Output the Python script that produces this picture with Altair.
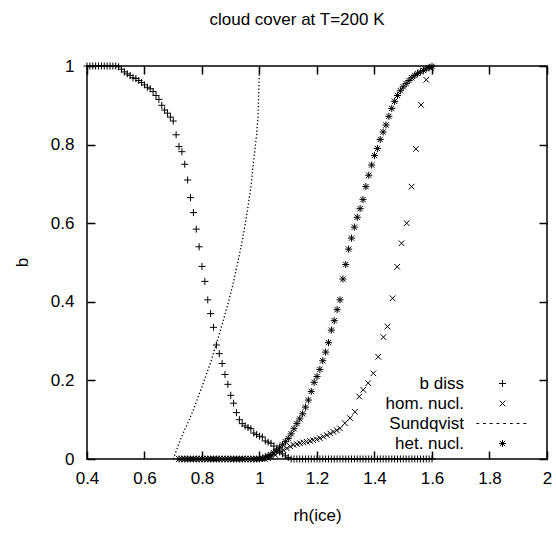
import altair as alt
import pandas as pd

title_text = "cloud cover at T=200 K"
x_title = "rh(ice)"
y_title = "b"
series_names = ["b diss", "hom. nucl.", "Sundqvist", "het. nucl."]
x_ticks = [0.4, 0.6, 0.8, 1.0, 1.2, 1.4, 1.6, 1.8, 2.0]
y_ticks = [0.0, 0.2, 0.4, 0.6, 0.8, 1.0]

# b diss (+)
bdiss_x = [0.40, 0.41, 0.42, 0.43, 0.44, 0.45, 0.46, 0.47, 0.48, 0.49, 0.50, 0.51,
           0.52, 0.53, 0.54, 0.55, 0.56, 0.57, 0.58, 0.59, 0.60, 0.61, 0.62, 0.63,
           0.64, 0.65, 0.66, 0.67, 0.68, 0.69, 0.70, 0.71, 0.72, 0.73, 0.74, 0.75,
           0.76, 0.77, 0.78, 0.79, 0.80, 0.81, 0.82, 0.83, 0.84, 0.85, 0.86, 0.87,
           0.88, 0.89, 0.90, 0.91, 0.92, 0.93, 0.94, 0.95, 0.96, 0.97, 0.98, 0.99,
           1.00, 1.01, 1.02, 1.03, 1.04, 1.05, 1.06, 1.07, 1.08, 1.09, 1.10, 1.11,
           1.12, 1.13, 1.14, 1.15, 1.16, 1.17, 1.18, 1.19, 1.20, 1.21, 1.22, 1.23,
           1.24, 1.25, 1.26, 1.27, 1.28, 1.29, 1.30, 1.31, 1.32, 1.33, 1.34, 1.35,
           1.36, 1.37, 1.38, 1.39, 1.40, 1.41, 1.42, 1.43, 1.44, 1.45, 1.46, 1.47,
           1.48, 1.49, 1.50, 1.51, 1.52, 1.53, 1.54, 1.55, 1.56, 1.57, 1.58, 1.59, 1.60]
bdiss_y = [1.0, 1.0, 1.0, 1.0, 1.0, 1.0, 1.0, 1.0, 1.0, 1.0, 1.0, 0.998,
           0.992, 0.985, 0.980, 0.976, 0.970, 0.968, 0.963, 0.958, 0.952, 0.946, 0.942, 0.935,
           0.925, 0.915, 0.900, 0.888, 0.880, 0.870, 0.860, 0.825, 0.795, 0.782, 0.750, 0.710,
           0.665, 0.627, 0.585, 0.540, 0.490, 0.452, 0.405, 0.370, 0.335, 0.290, 0.268, 0.243,
           0.215, 0.190, 0.162, 0.142, 0.118, 0.100, 0.090, 0.084, 0.080, 0.077, 0.066, 0.062,
           0.058, 0.056, 0.046, 0.043, 0.040, 0.033, 0.025, 0.018, 0.013, 0.008, 0.004, 0.0,
           0.0, 0.0, 0.0, 0.0, 0.0, 0.0, 0.0, 0.0, 0.0, 0.0, 0.0, 0.0,
           0.0, 0.0, 0.0, 0.0, 0.0, 0.0, 0.0, 0.0, 0.0, 0.0, 0.0, 0.0,
           0.0, 0.0, 0.0, 0.0, 0.0, 0.0, 0.0, 0.0, 0.0, 0.0, 0.0, 0.0,
           0.0, 0.0, 0.0, 0.0, 0.0, 0.0, 0.0, 0.0, 0.0, 0.0, 0.0, 0.0, 0.0]

# hom. nucl. (x)
hom_x = [0.72, 0.73, 0.74, 0.75, 0.76, 0.77, 0.78, 0.79, 0.80, 0.81, 0.82, 0.83,
         0.84, 0.85, 0.86, 0.87, 0.88, 0.89, 0.90, 0.91, 0.92, 0.93, 0.94, 0.95,
         0.96, 0.97, 0.98, 0.99, 1.00, 1.01, 1.02, 1.03, 1.04,
         1.055, 1.071, 1.083, 1.095, 1.107, 1.118, 1.130, 1.141, 1.153, 1.164, 1.176,
         1.187, 1.199, 1.210, 1.222, 1.234, 1.246, 1.257, 1.269, 1.280, 1.297, 1.315,
         1.332, 1.347, 1.361, 1.378, 1.396, 1.413, 1.431, 1.445, 1.463, 1.479, 1.494,
         1.512, 1.529, 1.544, 1.562, 1.580, 1.597]
hom_y = [0.0, 0.0, 0.0, 0.0, 0.0, 0.0, 0.0, 0.0, 0.0, 0.0, 0.0, 0.0,
         0.0, 0.0, 0.0, 0.0, 0.0, 0.0, 0.0, 0.0, 0.0, 0.0, 0.0, 0.0,
         0.0, 0.0, 0.0, 0.0, 0.0, 0.0, 0.0, 0.002, 0.005,
         0.010, 0.019, 0.023, 0.027, 0.032, 0.036, 0.038, 0.040, 0.042, 0.044, 0.046,
         0.048, 0.050, 0.053, 0.057, 0.061, 0.065, 0.069, 0.073, 0.078, 0.091, 0.104,
         0.120, 0.159, 0.176, 0.193, 0.218, 0.260, 0.310, 0.337, 0.409, 0.489, 0.549,
         0.600, 0.693, 0.789, 0.901, 0.965, 0.995]

# het. nucl. (*)
het_x = [0.72, 0.73, 0.74, 0.75, 0.76, 0.77, 0.78, 0.79, 0.80, 0.81, 0.82, 0.83,
         0.84, 0.85, 0.86, 0.87, 0.88, 0.89, 0.90, 0.91, 0.92, 0.93, 0.94, 0.95,
         0.96, 0.97, 0.98, 0.99, 1.00, 1.01, 1.02, 1.03, 1.04, 1.05, 1.06, 1.07,
         1.08, 1.09, 1.10, 1.11, 1.12, 1.13, 1.14, 1.15, 1.16, 1.17, 1.18, 1.19,
         1.20, 1.21, 1.22, 1.23, 1.24, 1.25, 1.26, 1.27, 1.28, 1.29, 1.30, 1.31,
         1.32, 1.33, 1.34, 1.35, 1.36, 1.37, 1.38, 1.39, 1.40, 1.41, 1.42, 1.43,
         1.44, 1.45, 1.46, 1.47, 1.48, 1.49, 1.50, 1.51, 1.52, 1.53, 1.54, 1.55,
         1.56, 1.57, 1.58, 1.59, 1.60]
het_y = [0.0, 0.0, 0.0, 0.0, 0.0, 0.0, 0.0, 0.0, 0.0, 0.0, 0.0, 0.0,
         0.0, 0.0, 0.0, 0.0, 0.0, 0.0, 0.0, 0.0, 0.0, 0.0, 0.0, 0.0,
         0.0, 0.0, 0.0, 0.0, 0.0, 0.002, 0.005, 0.008, 0.011, 0.016, 0.022, 0.030,
         0.036, 0.044, 0.052, 0.064, 0.077, 0.090, 0.102, 0.115, 0.132, 0.150, 0.172, 0.195,
         0.210, 0.228, 0.250, 0.272, 0.296, 0.328, 0.352, 0.380, 0.405, 0.458, 0.495, 0.534,
         0.562, 0.590, 0.615, 0.637, 0.660, 0.693, 0.722, 0.748, 0.772, 0.790, 0.813, 0.832,
         0.850, 0.872, 0.892, 0.910, 0.925, 0.937, 0.947, 0.955, 0.963, 0.970, 0.976, 0.981,
         0.985, 0.989, 0.993, 0.996, 0.999]

# Sundqvist (dotted line)
sund_x = [0.700, 0.710, 0.720, 0.730, 0.740, 0.750, 0.760, 0.770, 0.780, 0.790, 0.800,
          0.810, 0.820, 0.830, 0.840, 0.850, 0.860, 0.870, 0.880, 0.890, 0.900, 0.910,
          0.920, 0.930, 0.940, 0.950, 0.960, 0.970, 0.980, 0.990, 0.995, 1.000]
sund_y = [0.000, 0.020, 0.040, 0.058, 0.075, 0.090, 0.108, 0.125, 0.145, 0.165, 0.184,
          0.205, 0.225, 0.245, 0.270, 0.292, 0.318, 0.342, 0.368, 0.394, 0.422, 0.452,
          0.486, 0.520, 0.556, 0.596, 0.642, 0.692, 0.762, 0.825, 0.872, 1.000]

label_keys = ["#" + s for s in series_names]

pts = pd.concat([
    pd.DataFrame({"rh": bdiss_x, "b": bdiss_y, "series": series_names[0]}),
    pd.DataFrame({"rh": hom_x, "b": hom_y, "series": series_names[1]}),
    pd.DataFrame({"rh": het_x, "b": het_y, "series": series_names[3]}),
], ignore_index=True)
pts["order"] = range(len(pts))
pts["label"] = "#" + pts["series"]
line_df = pd.DataFrame({"rh": sund_x, "b": sund_y})

# marker shapes (unit box paths)
plus_path = "M-1,0L1,0M0,-1L0,1"
cross_path = "M-0.8,-0.8L0.8,0.8M-0.8,0.8L0.8,-0.8"
star_path = "M-1,0L1,0M0,-1L0,1M-0.75,-0.75L0.75,0.75M-0.75,0.75L0.75,-0.75"
dash_path = "".join("M%.2f,0L%.2f,0" % (-7.4 + i * 1.9, -6.6 + i * 1.9) for i in range(8))

FONT = "Liberation Sans"
FS = 17

xscale = alt.Scale(domain=[0.4, 2.0], nice=False, zero=False)
yscale = alt.Scale(domain=[0.0, 1.0], nice=False)

# legend showing only the symbols
symbol_legend = alt.Legend(title=None, orient="none", legendX=407, legendY=309,
                           padding=0, rowPadding=2, labelFontSize=FS, labelFont=FONT,
                           labelOpacity=0, labelExpr="''", labelLimit=1,
                           symbolSize=50, symbolStrokeWidth=1,
                           symbolStrokeColor="black", symbolFillColor="transparent")
# legend showing only the labels (right aligned, to the left of the symbols)
label_legend = alt.Legend(title=None, orient="none", legendX=360, legendY=309,
                          padding=0, rowPadding=2, labelFontSize=FS, labelFont=FONT,
                          labelAlign="right", labelOffset=0, labelColor="black",
                          labelExpr="substring(datum.label, 1)",
                          symbolOpacity=0, symbolSize=50, symbolType="square")

points = alt.Chart(pts).mark_point(filled=False, size=50, strokeWidth=1, opacity=1).encode(
    x=alt.X("rh:Q", scale=xscale,
            axis=alt.Axis(orient="bottom", values=x_ticks, format="~g", title=x_title,
                          offset=-8, tickSize=8, labelPadding=11, domain=False,
                          titleX=230, titleY=64, titleBaseline="middle")),
    y=alt.Y("b:Q", scale=yscale,
            axis=alt.Axis(orient="left", values=y_ticks, format="~g", title=y_title,
                          offset=-8, tickSize=8, labelPadding=13, domain=False,
                          titleX=-73, titleY=196, titleBaseline="middle", titleAngle=270)),
    shape=alt.Shape("series:N",
                    scale=alt.Scale(domain=series_names,
                                    range=[plus_path, cross_path, dash_path, star_path]),
                    legend=symbol_legend),
    color=alt.Color("label:N",
                    scale=alt.Scale(domain=label_keys,
                                    range=["black", "black", "black", "black"]),
                    legend=label_legend),
    order="order:Q",
)

sund = alt.Chart(line_df).mark_line(color="black", strokeWidth=1.3, strokeDash=[1.3, 2.2]).encode(
    x=alt.X("rh:Q", scale=xscale,
            axis=alt.Axis(orient="top", values=x_ticks, labels=False, title=None,
                          offset=-8, tickSize=8, domain=False)),
    y=alt.Y("b:Q", scale=yscale,
            axis=alt.Axis(orient="right", values=y_ticks, labels=False, title=None,
                          offset=-8, tickSize=8, domain=False)),
)

chart = alt.layer(points, sund).resolve_axis(x="independent", y="independent").properties(
    width=460,
    height=393,
    autosize=alt.AutoSizeParams(type="none"),
    padding={"left": 87, "top": 66, "right": 9, "bottom": 79},
    background="white",
    title=alt.TitleParams(title_text, fontSize=FS, font=FONT, fontWeight="normal",
                          anchor="middle", dx=-20, dy=19, offset=30, baseline="bottom",
                          color="black"),
).configure_view(
    stroke="black", strokeWidth=1.5
).configure_axis(
    grid=False, tickColor="black", tickWidth=1.5, labelColor="black", titleColor="black",
    labelFont=FONT, titleFont=FONT, labelFontSize=FS, titleFontSize=FS,
    titleFontWeight="normal", labelFlush=False, labelOverlap=False,
)

chart.save("out.html", embed_options={"renderer": "svg", "actions": False})
